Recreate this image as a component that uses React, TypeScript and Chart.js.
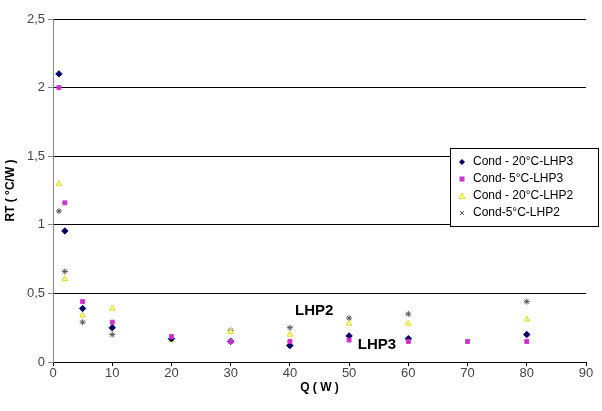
import React, { useEffect, useRef } from "react";
import { Chart, registerables } from "chart.js";

Chart.register(...registerables);

const yTickValues = [0, 0.5, 1, 1.5, 2, 2.5];
const xTickValues = [0, 10, 20, 30, 40, 50, 60, 70, 80, 90];

const seriesNames = ["Cond - 20°C-LHP3", "Cond- 5°C-LHP3", "Cond - 20°C-LHP2", "Cond-5°C-LHP2"];

const s1X = [1, 2, 5, 10, 20, 30, 40, 50, 60, 80];
const s1Y = [2.1, 0.955, 0.39, 0.25, 0.17, 0.15, 0.12, 0.19, 0.17, 0.2];

const s2X = [1, 2, 5, 10, 20, 30, 40, 50, 60, 70, 80];
const s2Y = [2.0, 1.16, 0.44, 0.29, 0.185, 0.15, 0.15, 0.16, 0.15, 0.15, 0.15];

const s3X = [1, 2, 5, 10, 20, 30, 40, 50, 60, 80];
const s3Y = [1.3, 0.605, 0.34, 0.39, 0.16, 0.22, 0.2, 0.28, 0.28, 0.31];

const s4X = [1, 2, 5, 10, 20, 30, 40, 50, 60, 80];
const s4Y = [1.1, 0.66, 0.29, 0.2, 0.17, 0.23, 0.25, 0.32, 0.35, 0.44];

const annotations = [
  { text: "LHP2", x: 44.1, y: 0.37 },
  { text: "LHP3", x: 54.7, y: 0.124 },
];

const pts = (xs: number[], ys: number[]) => xs.map((x, i) => ({ x, y: ys[i] }));

const styles = [
  { pointStyle: "rectRot", bg: "#000066", border: "#000066", r: 3.2 },
  { pointStyle: "rect", bg: "#CC33CC", border: "#CC33CC", r: 2.8 },
  { pointStyle: "triangle", bg: "#FFFF88", border: "#D8D840", r: 3.3 },
  { pointStyle: "star", bg: "#666666", border: "#555555", r: 3 },
];

export default function App() {
  const ref = useRef<HTMLCanvasElement | null>(null);

  useEffect(() => {
    if (!ref.current) return;
    const datas = [pts(s1X, s1Y), pts(s2X, s2Y), pts(s3X, s3Y), pts(s4X, s4Y)];

    const overlay = {
      id: "overlay",
      afterDraw(chart: any) {
        const ctx = chart.ctx;
        const xs = chart.scales.x;
        const ys = chart.scales.y;
        ctx.save();
        ctx.fillStyle = "#000";
        ctx.font = "bold 15px 'Liberation Sans', Arial, sans-serif";
        ctx.textAlign = "center";
        ctx.textBaseline = "middle";
        annotations.forEach((a) => {
          ctx.fillText(a.text, xs.getPixelForValue(a.x), ys.getPixelForValue(a.y));
        });
        // legend
        const lx = 450, ly = 148, lw = 148, lh = 78;
        ctx.fillStyle = "#fff";
        ctx.fillRect(lx, ly, lw, lh);
        ctx.strokeStyle = "#000";
        ctx.lineWidth = 1;
        ctx.strokeRect(lx + 0.5, ly + 0.5, lw, lh);
        ctx.font = "12px 'Liberation Sans', Arial, sans-serif";
        ctx.textAlign = "left";
        seriesNames.forEach((name, i) => {
          const cy = 162 + i * 17;
          const st = styles[i];
          const cx = 462;
          ctx.fillStyle = st.bg;
          ctx.strokeStyle = st.border;
          ctx.beginPath();
          if (st.pointStyle === "rectRot") {
            ctx.moveTo(cx, cy - 3);
            ctx.lineTo(cx + 3, cy);
            ctx.lineTo(cx, cy + 3);
            ctx.lineTo(cx - 3, cy);
            ctx.closePath();
            ctx.fill();
          } else if (st.pointStyle === "rect") {
            ctx.fillRect(cx - 2.5, cy - 2.5, 5, 5);
          } else if (st.pointStyle === "triangle") {
            ctx.moveTo(cx, cy - 3);
            ctx.lineTo(cx + 3, cy + 2.5);
            ctx.lineTo(cx - 3, cy + 2.5);
            ctx.closePath();
            ctx.fill();
            ctx.stroke();
          } else {
            ctx.moveTo(cx - 2, cy - 2);
            ctx.lineTo(cx + 2, cy + 2);
            ctx.moveTo(cx + 2, cy - 2);
            ctx.lineTo(cx - 2, cy + 2);
            ctx.stroke();
          }
          ctx.fillStyle = "#000";
          ctx.fillText(name, 473, cy);
        });
        ctx.restore();
      },
    };

    const chart = new Chart(ref.current, {
      type: "scatter",
      data: {
        datasets: datas.map((d, i) => ({
          label: seriesNames[i],
          data: d,
          pointStyle: styles[i].pointStyle as any,
          pointRadius: styles[i].r,
          pointBackgroundColor: styles[i].bg,
          pointBorderColor: styles[i].border,
          pointBorderWidth: 1,
          showLine: false,
          order: i === 1 ? 0 : i + 1,
        })),
      },
      options: {
        animation: false,
        responsive: false,
        devicePixelRatio: 1,
        layout: { padding: { left: 0, right: 16, top: 19, bottom: 0 } },
        plugins: { legend: { display: false }, tooltip: { enabled: false } },
        scales: {
          x: {
            type: "linear",
            min: 0,
            max: 90,
            afterBuildTicks: (s: any) => {
              s.ticks = xTickValues.map((v) => ({ value: v }));
            },
            afterFit: (s: any) => {
              s.height = 49;
            },
            ticks: {
              color: "#444",
              font: { family: "'Liberation Sans', Arial, sans-serif", size: 13 },
              padding: 0,
              maxRotation: 0,
              autoSkip: false,
            },
            grid: { drawOnChartArea: false, drawTicks: true, tickLength: 4, tickColor: "#000" },
            border: { color: "#000", width: 1 },
            title: {
              display: true,
              text: "Q ( W )",
              color: "#000",
              font: { family: "'Liberation Sans', Arial, sans-serif", size: 12, weight: "bold" },
              padding: { top: 0, bottom: 16 },
            },
          },
          y: {
            type: "linear",
            min: 0,
            max: 2.5,
            afterBuildTicks: (s: any) => {
              s.ticks = yTickValues.map((v) => ({ value: v }));
            },
            afterFit: (s: any) => {
              s.width = 53;
            },
            ticks: {
              color: "#444",
              font: { family: "'Liberation Sans', Arial, sans-serif", size: 13 },
              padding: 3,
              callback: (v: any) => String(v).replace(".", ","),
            },
            grid: { color: "#000", lineWidth: 1, drawTicks: true, tickLength: 5, tickColor: "#888" },
            border: { color: "#888", width: 1 },
            title: {
              display: true,
              text: "RT ( °C/W )",
              color: "#000",
              font: { family: "'Liberation Sans', Arial, sans-serif", size: 12, weight: "bold" },
              padding: { top: 3, bottom: 0 },
            },
          },
        },
      },
      plugins: [overlay],
    });
    return () => chart.destroy();
  }, []);

  return (
    <div style={{ position: "fixed", left: 0, top: 0, width: 602, height: 411, background: "#fff" }}>
      <canvas ref={ref} width={602} height={411} style={{ width: 602, height: 411 }} />
    </div>
  );
}
